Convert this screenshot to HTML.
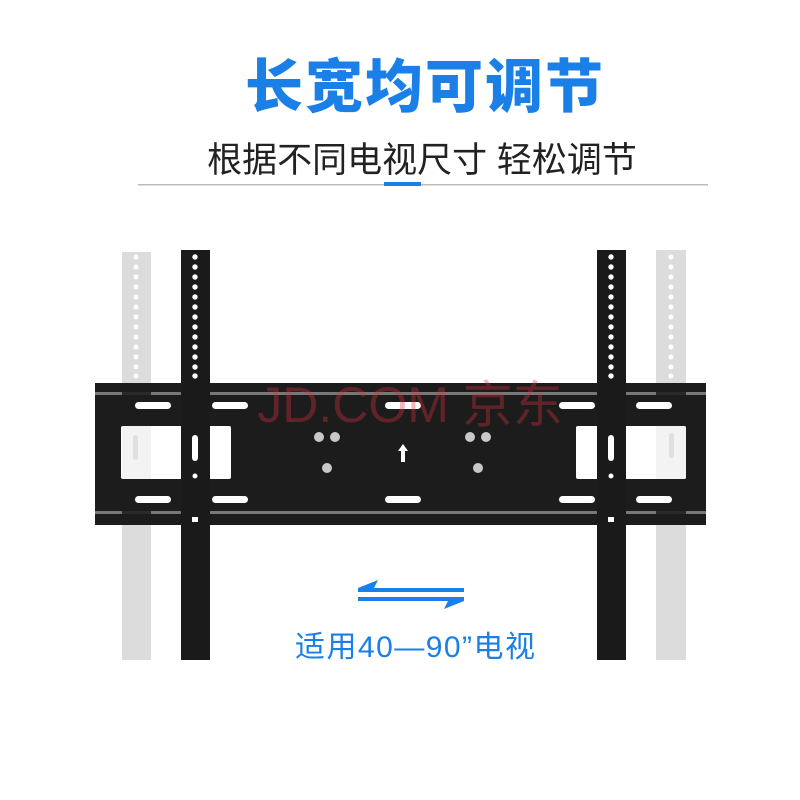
<!DOCTYPE html>
<html><head><meta charset="utf-8"><style>
html,body{margin:0;padding:0;background:#fff;width:800px;height:800px;overflow:hidden}
</style></head><body>
<svg width="800" height="800" viewBox="0 0 800 800" xmlns="http://www.w3.org/2000/svg">
<rect width="800" height="800" fill="#fff"/>
<text x="425" y="107" text-anchor="middle" font-family="Liberation Sans,'Noto Sans CJK SC',sans-serif" font-weight="900" font-size="58" fill="#1a7fe6" letter-spacing="2">长宽均可调节</text>
<text x="422" y="172" text-anchor="middle" font-family="Liberation Sans,'Noto Sans CJK SC',sans-serif" font-size="35" fill="#222">根据不同电视尺寸 轻松调节</text>
<rect x="138" y="184" width="570" height="1.5" fill="#bbb"/>
<rect x="384" y="182" width="37" height="4" fill="#1a7fe6"/>

<g fill="#dcdcdc">
<rect x="122" y="252" width="29" height="408"/>
<rect x="656" y="250" width="30" height="410"/>
</g>
<g fill="#fff" id="gh">
<circle cx="136" cy="257" r="2.5"/><circle cx="136" cy="267" r="2.5"/><circle cx="136" cy="277" r="2.5"/><circle cx="136" cy="287" r="2.5"/><circle cx="136" cy="297" r="2.5"/><circle cx="136" cy="307" r="2.5"/><circle cx="136" cy="317" r="2.5"/><circle cx="136" cy="327" r="2.5"/><circle cx="136" cy="337" r="2.5"/><circle cx="136" cy="347" r="2.5"/><circle cx="136" cy="357" r="2.5"/><circle cx="136" cy="367" r="2.5"/><circle cx="136" cy="376" r="2.5"/>
</g>
<use href="#gh" x="535"/>

<rect x="95" y="383" width="611" height="142" fill="#1c1c1c"/>
<rect x="95" y="392" width="611" height="3" fill="#777"/>
<rect x="95" y="511" width="611" height="3" fill="#777"/>
<g fill="#1c1c1c" opacity="0.85">
<rect x="122" y="383" width="29" height="142"/><rect x="656" y="383" width="30" height="142"/>
</g>
<g fill="#fff">
<rect x="135" y="402" width="36" height="7" rx="3.5"/><rect x="212" y="402" width="36" height="7" rx="3.5"/>
<rect x="385" y="402" width="36" height="7" rx="3.5"/><rect x="559" y="402" width="36" height="7" rx="3.5"/><rect x="636" y="402" width="36" height="7" rx="3.5"/>
<rect x="135" y="496" width="36" height="7" rx="3.5"/><rect x="212" y="496" width="36" height="7" rx="3.5"/>
<rect x="385" y="496" width="36" height="7" rx="3.5"/><rect x="559" y="496" width="36" height="7" rx="3.5"/><rect x="636" y="496" width="36" height="7" rx="3.5"/>
<rect x="121" y="426" width="110" height="53" rx="2"/><rect x="576" y="426" width="110" height="53" rx="2"/>
<polygon points="403,444 408,451 405,451 405,462 401,462 401,451 398,451"/>
</g>
<g fill="#c8c8c8">
<circle cx="319" cy="437" r="5"/><circle cx="335" cy="437" r="5"/><circle cx="327" cy="468" r="5"/>
<circle cx="470" cy="437" r="5"/><circle cx="486" cy="437" r="5"/><circle cx="478" cy="468" r="5"/>
</g>
<g fill="#dcdcdc" opacity="0.35">
<rect x="122" y="426" width="29" height="53"/><rect x="656" y="426" width="30" height="53"/>
</g>
<rect x="133" y="435" width="5" height="25" rx="2.5" fill="#e0e0e0"/>
<rect x="669" y="433" width="5" height="25" rx="2.5" fill="#e0e0e0"/>

<rect x="181" y="250" width="29" height="410" fill="#1a1a1a"/>
<rect x="597" y="250" width="29" height="410" fill="#1a1a1a"/>
<g fill="#fff" id="bh">
<circle cx="195" cy="257" r="2.7"/><circle cx="195" cy="267" r="2.7"/><circle cx="195" cy="277" r="2.7"/><circle cx="195" cy="287" r="2.7"/><circle cx="195" cy="297" r="2.7"/><circle cx="195" cy="307" r="2.7"/><circle cx="195" cy="317" r="2.7"/><circle cx="195" cy="327" r="2.7"/><circle cx="195" cy="337" r="2.7"/><circle cx="195" cy="347" r="2.7"/><circle cx="195" cy="357" r="2.7"/><circle cx="195" cy="367" r="2.7"/><circle cx="195" cy="376" r="2.7"/>
<rect x="192" y="435" width="6" height="26" rx="3"/>
<circle cx="195" cy="476" r="2.5"/>
<rect x="192" y="517" width="6" height="5"/>
</g>
<use href="#bh" x="416"/>

<text x="410" y="422" text-anchor="middle" font-family="Liberation Sans,'Noto Sans CJK SC',sans-serif" font-size="50" fill="#e03040" opacity="0.35">JD.COM 京东</text>

<g fill="#1a7fe6">
<rect x="358" y="588" width="106" height="4"/>
<rect x="358" y="597" width="106" height="4"/>
<polygon points="358,588 378,580 374,588"/>
<polygon points="464,601 444,609 448,601"/>
</g>
<text x="295" y="657" font-family="Liberation Sans,'Noto Sans CJK SC',sans-serif" font-size="30" fill="#1a7fe6" textLength="240" lengthAdjust="spacing">适用40—90”电视</text>
</svg>
</body></html>
